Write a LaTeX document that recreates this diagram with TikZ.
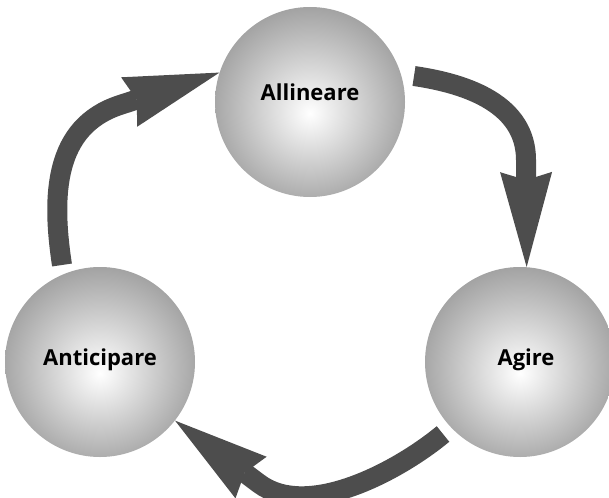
\documentclass[tikz,border=0pt]{standalone}
\usepackage{fontspec}
\setmainfont{Open Sans}
\usetikzlibrary{arrows.meta}
\pgfdeclareradialshading{sphere}{\pgfpoint{0bp}{-3bp}}{color(0bp)=(white); color(35bp)=(black!48); color(50bp)=(black!48)}
\definecolor{arrowgray}{RGB}{77,77,77}
\begin{document}
\begin{tikzpicture}[x=1pt,y=-1pt]
  \tikzstyle{ball}=[circle,minimum size=190pt,inner sep=0pt,shading=sphere]
  \tikzstyle{word}=[font=\fontsize{22}{26}\selectfont\bfseries,text=black]
  \tikzstyle{flow}=[draw=arrowgray,line width=20pt,
                    -{Stealth[length=95pt,width=52pt,inset=8pt,line width=0pt]}]
  \useasboundingbox (0,0) rectangle (609,497);
  \node[ball,label={[word,yshift=10pt]center:Allineare}] (allin) at (310,102) {};
  \node[ball,label={[word,yshift=2.5pt]center:Anticipare}] (antic) at (100,362) {};
  \node[ball,label={[word,xshift=6pt,yshift=2.5pt]center:Agire}] (agire) at (520,362) {};
  % tails of the three arrows
  \coordinate (tail1) at (414,76);
  \coordinate (tail2) at (443,434);
  \coordinate (tail3) at (62,265);
  \draw[flow] (tail1) .. controls (469,84) and (526,105) .. (526,160) -- (agire.86);
  \draw[flow] (tail2) .. controls (397,472) and (307,519.5) .. (259,483.5) -- (antic.-38);
  \draw[flow] (tail3) .. controls (51.5,196) and (53.5,126.7) .. (120,105) -- (allin.162);
\end{tikzpicture}
\end{document}
